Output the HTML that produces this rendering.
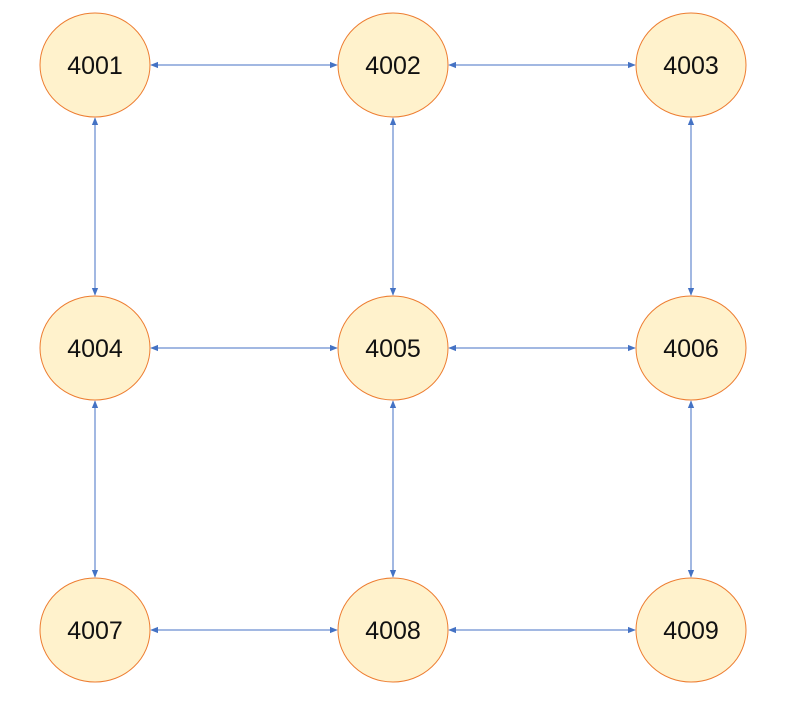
<!DOCTYPE html>
<html><head><meta charset="utf-8"><style>html,body{margin:0;padding:0;background:#fff;width:803px;height:709px;overflow:hidden}</style></head>
<body>
<svg id="g" width="803" height="709" xmlns="http://www.w3.org/2000/svg">
<defs><marker id="ah" viewBox="0 0 10 10" refX="9" refY="5" markerWidth="8" markerHeight="8" orient="auto-start-reverse" markerUnits="userSpaceOnUse"><path d="M0,1 L10,5 L0,9 z" fill="#4472C4"/></marker></defs>
</svg>
<script>
const nodeLabels = ["4001","4002","4003","4004","4005","4006","4007","4008","4009"];
const cols = [95, 393, 691];
const rows = [65, 348, 630];
const rx = 55, ry = 52;
const svg = document.getElementById('g');
const NS = 'http://www.w3.org/2000/svg';
function mk(t, a){const e=document.createElementNS(NS,t);for(const k in a)e.setAttribute(k,a[k]);svg.appendChild(e);return e;}
// edges
for(let r=0;r<3;r++)for(let c=0;c<3;c++){
  const x=cols[c], y=rows[r];
  if(c<2){
    const l=mk('line',{x1:x+rx+1,y1:y,x2:cols[c+1]-rx-1,y2:y,stroke:'#4472C4','stroke-width':1,'marker-start':'url(#ah)','marker-end':'url(#ah)'});
    
    
  }
  if(r<2){
    const l=mk('line',{x1:x,y1:y+ry+1,x2:x,y2:rows[r+1]-ry-1,stroke:'#4472C4','stroke-width':1,'marker-start':'url(#ah)','marker-end':'url(#ah)'});
    
    
  }
}
// nodes
nodeLabels.forEach((lab,i)=>{
  const x=cols[i%3], y=rows[Math.floor(i/3)];
  const e=mk('ellipse',{cx:x,cy:y,rx:rx,ry:ry,fill:'#FFF2CC',stroke:'#ED7D31','stroke-width':1});
  
  
  const t=mk('text',{x:x,y:y+9,'text-anchor':'middle','font-family':'Liberation Sans, sans-serif','font-size':25,fill:'#111'});
  t.textContent=lab;
  
  
});
</script>
</body></html>
